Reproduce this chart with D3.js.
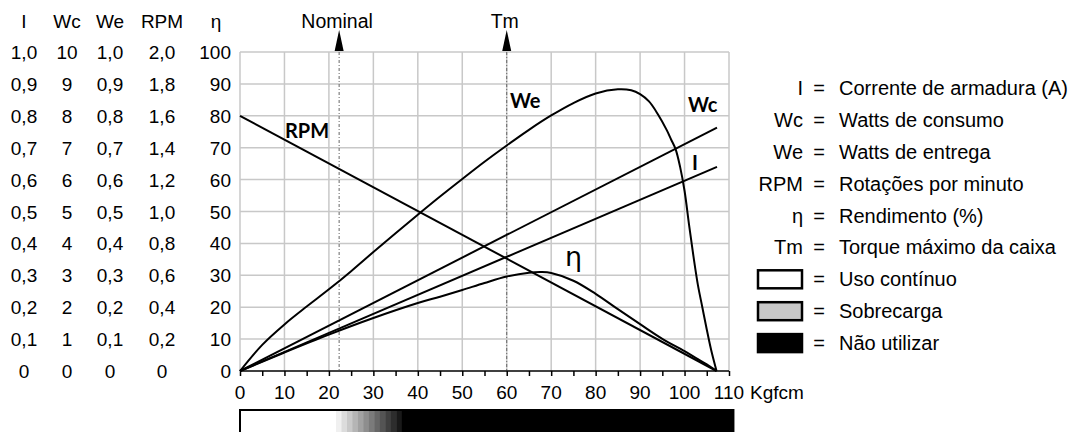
<!DOCTYPE html>
<html><head><meta charset="utf-8">
<script src="https://cdn.jsdelivr.net/npm/d3@7"></script>
<style>html,body{margin:0;padding:0;background:#fff;overflow:hidden}</style>
</head><body>
<svg id="c" width="1076" height="432"></svg>
<script>
// ---- data ----
const colHeaders = ["I", "Wc", "We", "RPM", "η"];
const colI   = ["1,0","0,9","0,8","0,7","0,6","0,5","0,4","0,3","0,2","0,1","0"];
const colWc  = ["10","9","8","7","6","5","4","3","2","1","0"];
const colWe  = ["1,0","0,9","0,8","0,7","0,6","0,5","0,4","0,3","0,2","0,1","0"];
const colRPM = ["2,0","1,8","1,6","1,4","1,2","1,0","0,8","0,6","0,4","0,2","0"];
const colEta = ["100","90","80","70","60","50","40","30","20","10","0"];
const xTicks = [0,10,20,30,40,50,60,70,80,90,100,110];

const rpmX = [0, 107.2];       const rpmY = [80, 0];
const wcX  = [0, 107.3];       const wcY  = [0, 76.3];
const iX   = [0, 107.3];       const iY   = [0, 64];
const weX  = [0,5,10,15,20,25,30,35,40,45,50,55,60,65,70,75,80,85,88,90,92,94,96,97,98,99,100,101,102,103,104,105,106,107.2];
const weY  = [0,8.2,14.6,20.2,25.6,31.3,37.3,43.2,49,54.7,60.2,65.6,70.7,75.6,80.1,84,87,88.3,88,86.8,84.5,80.5,75.5,72.5,69.5,64,56.5,46,36,27,20,13,6.5,0];
const etaX = [0,10,20,30,40,45,50,55,60,65,68,70,75,80,85,90,95,100,103,105,107.2];
const etaY = [0,5.8,11.4,16.6,21.3,23.3,25.4,27.6,29.6,30.8,31,30.7,28.3,24.2,19.4,14.7,10.1,6.2,3.7,2.1,0];

const markers = [{label:"Nominal", x:22.3}, {label:"Tm", x:60}];
const zoneOverloadStart = 21.6, zoneBlockStart = 36.4, zoneEnd = 111;

const legendRows = [
  ["I","Corrente de armadura (A)"],["Wc","Watts de consumo"],["We","Watts de entrega"],
  ["RPM","Rotações por minuto"],["η","Rendimento (%)"],["Tm","Torque máximo da caixa"]];
const legendBoxes = [["#ffffff","Uso contínuo"],["#c8c8c8","Sobrecarga"],["#000000","Não utilizar"]];

// ---- drawing ----
const svg = d3.select("#c");
const F = "'Liberation Sans', Arial, sans-serif";
const FS = 19;
const x = d3.scaleLinear().domain([0,110]).range([240,729]);
const y = d3.scaleLinear().domain([0,100]).range([371,52]);

// grid
const g = svg.append("g");
g.selectAll("line.v").data(d3.range(0,111,10)).join("line")
  .attr("x1",d=>x(d)).attr("x2",d=>x(d)).attr("y1",y(0)).attr("y2",y(100))
  .attr("stroke","#c8c8c8").attr("stroke-width",1.5);
g.selectAll("line.h").data(d3.range(10,101,10)).join("line")
  .attr("x1",x(0)).attr("x2",x(110)).attr("y1",d=>y(d)).attr("y2",d=>y(d))
  .attr("stroke","#c8c8c8").attr("stroke-width",1.5);

// marker dotted lines and arrows
markers.forEach(m=>{
  svg.append("line").attr("x1",x(m.x)).attr("x2",x(m.x)).attr("y1",y(100)).attr("y2",y(0))
    .attr("stroke","#666").attr("stroke-width",1).attr("stroke-dasharray","3,2,1,2");
  const cx = x(m.x);
  svg.append("path").attr("d",`M${cx},30 L${cx+4.5},51 L${cx-4.5},51 Z`).attr("fill","#000");
  svg.append("text").attr("x",cx-2).attr("y",28).attr("text-anchor","middle")
    .attr("font-family",F).attr("font-size",FS+0.5).text(m.label);
});

// x axis
const ax = svg.append("g").attr("transform",`translate(0,${y(0)})`)
  .call(d3.axisBottom(x).tickValues(d3.range(0,111,5)).tickSize(5).tickFormat(""));
ax.select(".domain").attr("stroke","#000").attr("stroke-width",1.5).attr("d",`M${x(0)},0H${x(110)}`);
ax.selectAll(".tick line").attr("stroke","#000").attr("stroke-width",1.5);
svg.selectAll("text.xt").data(xTicks).join("text").attr("class","xt")
  .attr("x",d=>x(d)).attr("y",399).attr("text-anchor","middle")
  .attr("font-family",F).attr("font-size",FS).text(d=>d);
svg.append("text").attr("x",750).attr("y",399).attr("font-family",F).attr("font-size",FS).text("Kgfcm");

// left value columns
const cols = [
  {vals:colI, cx:24, anchor:"middle"},
  {vals:colWc, cx:67, anchor:"middle"},
  {vals:colWe, cx:110, anchor:"middle"},
  {vals:colRPM, cx:162, anchor:"middle"},
  {vals:colEta, cx:231, anchor:"end"}];
cols.forEach((c,i)=>{
  svg.append("text").attr("x",i===4?216:c.cx).attr("y",28).attr("text-anchor","middle")
    .attr("font-family",F).attr("font-size",FS).text(colHeaders[i]);
  svg.selectAll(null).data(c.vals).join("text")
    .attr("x",c.cx).attr("y",(d,j)=>y(100-10*j)+7).attr("text-anchor",c.anchor)
    .attr("font-family",F).attr("font-size",FS).text(d=>d);
});

// curves
const line = d3.line().x(d=>x(d[0])).y(d=>y(d[1]));
const smooth = d3.line().x(d=>x(d[0])).y(d=>y(d[1])).curve(d3.curveCatmullRom.alpha(0.5));
const zip = (a,b)=>a.map((v,i)=>[v,b[i]]);
[[rpmX,rpmY],[wcX,wcY],[iX,iY]].forEach(([a,b])=>{
  svg.append("path").attr("d",line(zip(a,b))).attr("fill","none").attr("stroke","#000").attr("stroke-width",2);
});
[[weX,weY],[etaX,etaY]].forEach(([a,b])=>{
  svg.append("path").attr("d",smooth(zip(a,b))).attr("fill","none").attr("stroke","#000").attr("stroke-width",2);
});

// curve labels
const B = "Lato, 'Open Sans', sans-serif";
[["RPM",285,138],["We",510,108],["Wc",688,112],["I",692,170]].forEach(([t,lx,ly])=>{
  svg.append("text").attr("x",lx).attr("y",ly).attr("font-family",B).attr("font-weight","bold")
    .attr("font-size",20).text(t);
});
svg.append("text").attr("x",565).attr("y",266).attr("font-family","'DejaVu Sans', sans-serif")
  .attr("font-size",27).text("η");

// zone bar
const barTop = 410, barH = 30;
const bar = svg.append("g");
bar.append("rect").attr("x",x(0)).attr("y",barTop).attr("width",x(zoneEnd)-x(0)).attr("height",barH).attr("fill","#fff");
const nb = 12, bw = (zoneBlockStart-zoneOverloadStart)/nb;
d3.range(nb).forEach(k=>{
  const v = Math.round(240 - k*(215/(nb-1)));
  bar.append("rect").attr("x",x(zoneOverloadStart+k*bw)).attr("y",barTop)
    .attr("width",x(zoneOverloadStart+(k+1)*bw)-x(zoneOverloadStart+k*bw)+0.5).attr("height",barH)
    .attr("fill",`rgb(${v},${v},${v})`);
});
bar.append("rect").attr("x",x(zoneBlockStart)).attr("y",barTop).attr("width",x(zoneEnd)-x(zoneBlockStart)).attr("height",barH).attr("fill","#000");
bar.append("rect").attr("x",x(0)).attr("y",barTop).attr("width",x(zoneEnd)-x(0)).attr("height",barH)
  .attr("fill","none").attr("stroke","#000").attr("stroke-width",2);

// legend
const LS = 20;
const rowY = i => y(90-10*i)+4;
legendRows.forEach(([s,t],i)=>{
  svg.append("text").attr("x",803).attr("y",rowY(i)+7).attr("text-anchor","end")
    .attr("font-family",F).attr("font-size",LS).text(s);
  svg.append("text").attr("x",819).attr("y",rowY(i)+7).attr("text-anchor","middle")
    .attr("font-family",F).attr("font-size",LS).text("=");
  svg.append("text").attr("x",839).attr("y",rowY(i)+7)
    .attr("font-family",F).attr("font-size",LS).text(t);
});
legendBoxes.forEach(([c,t],k)=>{
  const i = 6+k;
  svg.append("rect").attr("x",758).attr("y",rowY(i)-9).attr("width",44).attr("height",18)
    .attr("fill",c).attr("stroke","#000").attr("stroke-width",2.5);
  svg.append("text").attr("x",819).attr("y",rowY(i)+7).attr("text-anchor","middle")
    .attr("font-family",F).attr("font-size",LS).text("=");
  svg.append("text").attr("x",839).attr("y",rowY(i)+7)
    .attr("font-family",F).attr("font-size",LS).text(t);
});
</script>
</body></html>
